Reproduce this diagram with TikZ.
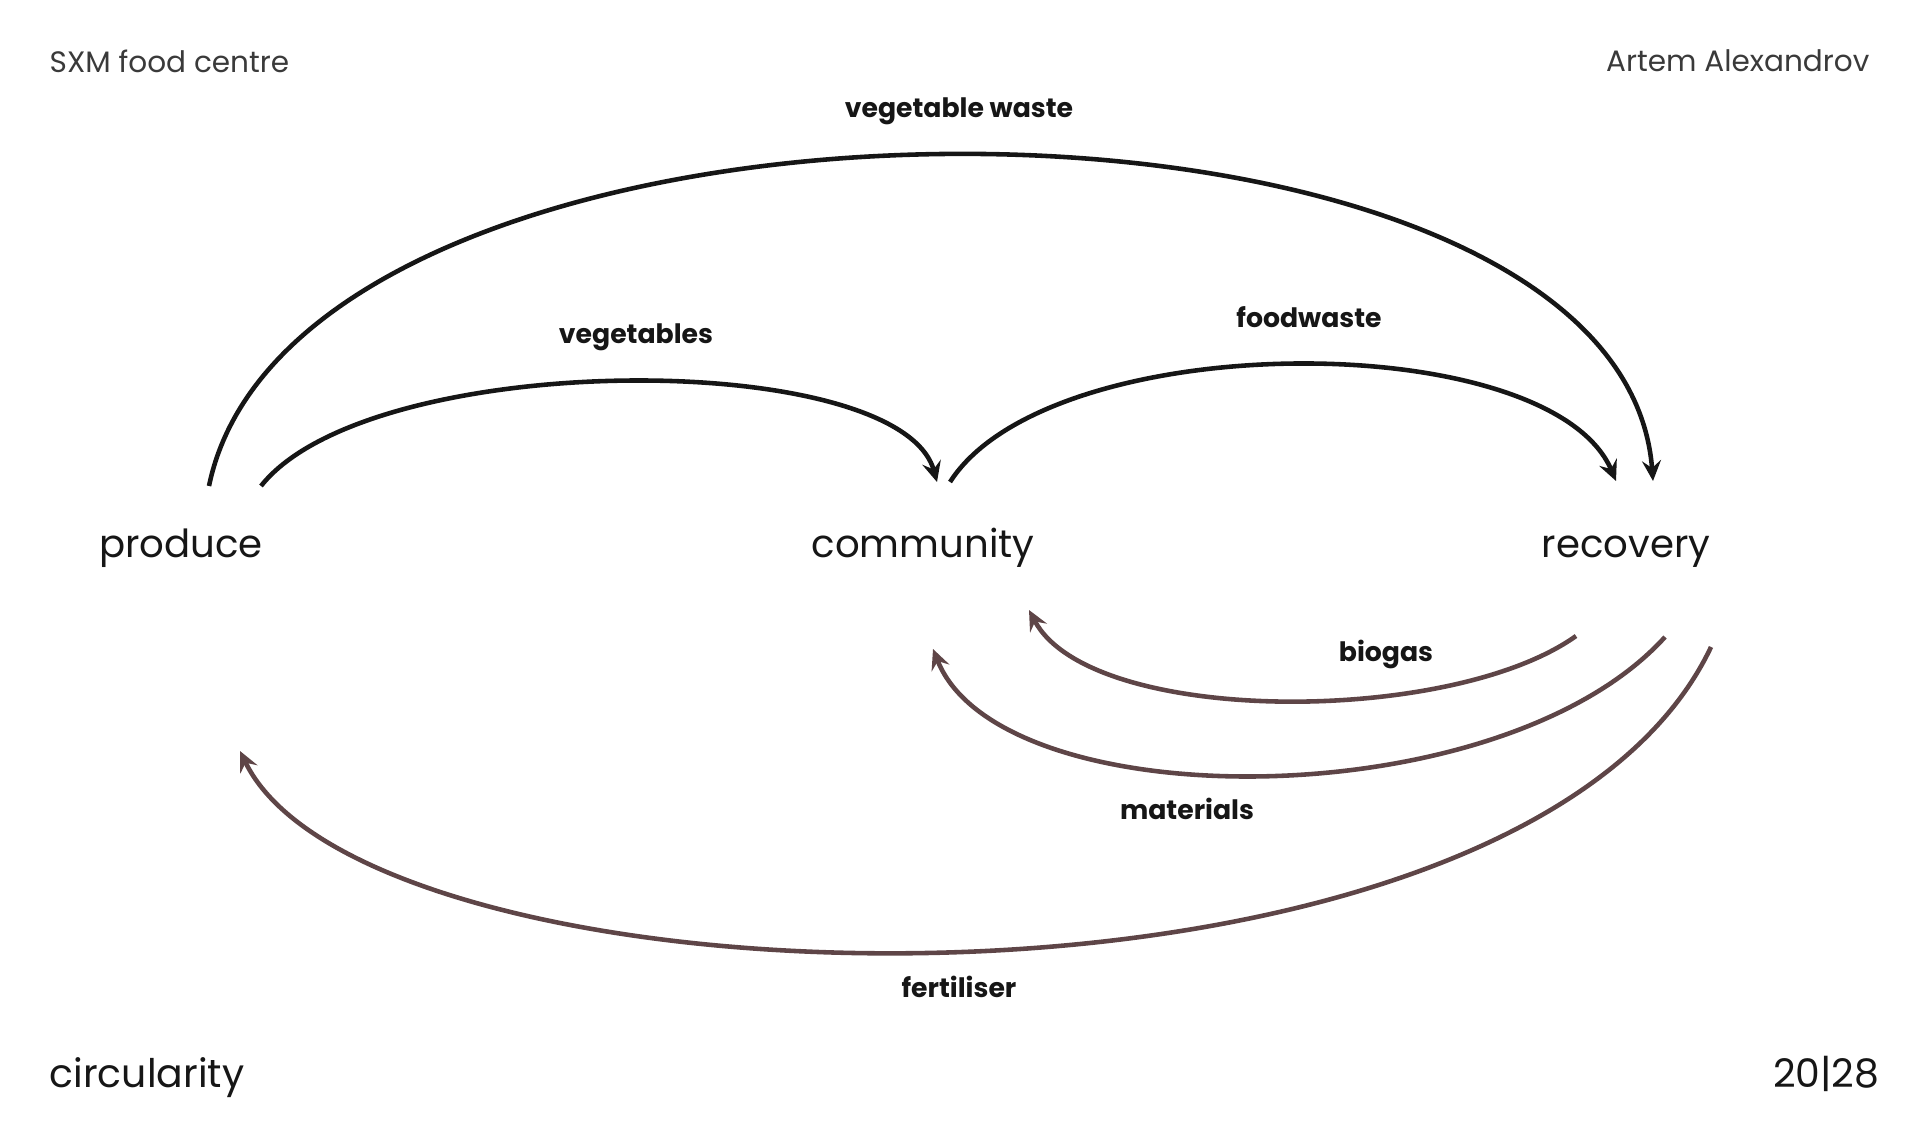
\documentclass[tikz,border=0pt]{standalone}
\usepackage{fontspec}
\setmainfont{Poppins}
\usepackage{xcolor}
\usetikzlibrary{arrows.meta}
\definecolor{flowblack}{HTML}{161616}
\definecolor{flowbrown}{HTML}{5E4547}
\definecolor{headgrey}{HTML}{3A3A3A}
\tikzset{
  stage/.style     = {font=\fontsize{11}{13}\selectfont, color=flowblack, inner sep=1pt, anchor=base},
  flowlab/.style   = {font=\fontsize{7.6}{9}\selectfont\bfseries, color=flowblack, inner sep=1pt},
  headlab/.style   = {font=\fontsize{8.4}{10}\selectfont, color=headgrey, inner sep=0pt},
  footlab/.style   = {font=\fontsize{11.2}{13}\selectfont, color=flowblack, inner sep=0pt},
  forward/.style   = {draw=flowblack, line width=1.3pt,
                      -{Stealth[length=5.8pt, width=5.4pt, inset=2.1pt]}},
  backward/.style  = {draw=flowbrown, line width=1.3pt,
                      -{Stealth[length=5.8pt, width=5.4pt, inset=2.1pt]}},
}
\begin{document}
\begin{tikzpicture}[x=1cm, y=1cm]
    \useasboundingbox (0,0) rectangle (19.2,11.4);

    % ---------- page texts ---------------------------------------------
    \node[headlab, anchor=west] (title)  at (0.49,10.79) {SXM food centre};
    \node[headlab, anchor=east] (author) at (18.70,10.79) {Artem Alexandrov};
    \node[footlab, anchor=west] (topic)  at (0.49,0.62) {circularity};
    \node[footlab, anchor=east] (page)   at (18.80,0.66) {20|28};

    % ---------- stages -------------------------------------------------
    \node[stage] (produce)   at (1.81,5.82)  {produce};
    \node[stage] (community) at (9.23,5.82)  {community};
    \node[stage] (recovery)  at (16.26,5.82) {recovery};

    % ---------- arc ends ----------------------------------------------
    \coordinate (vw-s)  at (2.09,6.54);   \coordinate (vw-e)  at (16.53,6.59);
    \coordinate (veg-s) at (2.61,6.54);   \coordinate (veg-e) at (9.37,6.58);
    \coordinate (fw-s)  at (9.50,6.58);   \coordinate (fw-e)  at (16.16,6.59);
    \coordinate (bg-s)  at (15.76,5.04);  \coordinate (bg-e)  at (10.29,5.30);
    \coordinate (mat-s) at (16.65,5.03);  \coordinate (mat-e) at (9.33,4.91);
    \coordinate (fer-s) at (17.11,4.93);  \coordinate (fer-e) at (2.40,3.89);

    % ---------- forward flows ------------------------------------------
    \draw[forward] (vw-s) .. controls (3.00,10.94) and (16.20,10.94) .. (vw-e);
    \draw[forward] (veg-s) .. controls (3.70,7.92) and (9.00,7.92) .. (veg-e);
    \draw[forward] (fw-s) .. controls (10.50,8.14) and (15.50,8.14) .. (fw-e);

    % ---------- return flows -------------------------------------------
    \draw[backward] (bg-s) .. controls (14.50,4.14) and (10.90,4.14) .. (bg-e);
    \draw[backward] (mat-s) .. controls (15.00,3.21) and (10.00,3.21) .. (mat-e);
    \draw[backward] (fer-s) .. controls (15.20,0.90) and (3.70,1.20) .. (fer-e);

    % ---------- flow labels --------------------------------------------
    \node[flowlab] (l-vw)  at (9.59,10.29) {vegetable waste};
    \node[flowlab] (l-veg) at (6.36,8.03)  {vegetables};
    \node[flowlab] (l-fw)  at (13.09,8.23) {foodwaste};
    \node[flowlab] (l-bg)  at (13.86,4.86) {biogas};
    \node[flowlab] (l-mat) at (11.87,3.31) {materials};
    \node[flowlab] (l-fer) at (9.59,1.53)  {fertiliser};

\end{tikzpicture}
\end{document}
